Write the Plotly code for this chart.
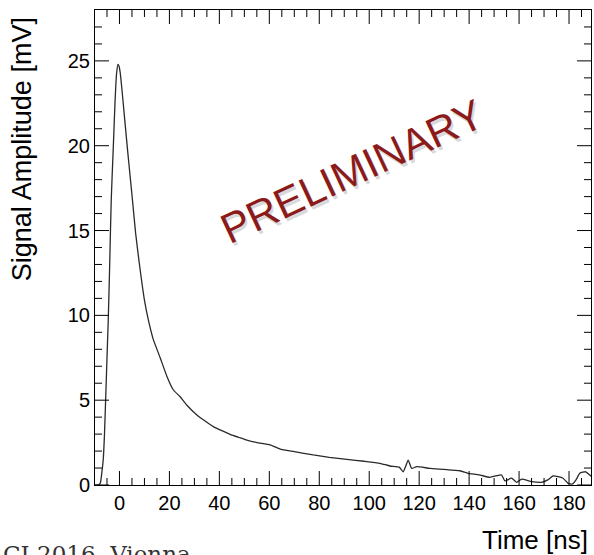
import plotly.graph_objects as go

# Time [ns] and signal amplitude [mV]
time_ns = [-10, -8.5, -7.7, -7, -6.5, -6, -5.5, -5, -4.5, -4, -3.3, -2.5, -1.8, -1.2, -0.6, -0.2,
           0.3, 1, 2, 3.2, 4, 5.2, 6.5, 8, 10, 11.6, 13.5, 16.3, 19, 21.6, 24.3, 27, 31, 34,
           37.6, 41, 44.3, 48, 51, 55, 60.3, 64.3, 70, 77.6, 84, 91, 98, 104.3, 108.3, 112,
           113.6, 114.6, 115.6, 117, 119, 124.3, 130, 136.3, 139.6, 144, 148.3, 151, 153,
           154.3, 157, 159, 161, 165, 169, 171.5, 173.6, 177.6, 179.6, 181.4, 182.8, 184.3,
           186.7, 188.3, 189]
amplitude_mv = [0, 0, 0.1, 0.8, 1.5, 3, 5.2, 7.5, 9.7, 12.5, 16.8, 19.8, 22.5, 24.2, 24.8, 24.7,
                24.3, 23.3, 21.7, 19.8, 18.6, 16.8, 14.8, 13, 10.9, 9.7, 8.6, 7.5, 6.4, 5.6, 5.2,
                4.7, 4.13, 3.8, 3.44, 3.2, 2.99, 2.8, 2.65, 2.5, 2.36, 2.12, 1.97, 1.77, 1.63,
                1.51, 1.4, 1.28, 1.12, 1.05, 0.78, 1.1, 1.47, 0.98, 1.08, 0.98, 0.92, 0.84, 0.69,
                0.6, 0.45, 0.55, 0.59, 0.24, 0.4, 0.16, 0.34, 0.2, 0.16, 0.3, 0.53, 0.4, 0.1,
                0.06, 0.3, 0.69, 0.78, 0.59, 0.5]

x_major = list(range(0, 181, 20))
x_minor = [v for v in range(-5, 186, 5) if v not in x_major]
y_major = list(range(0, 26, 5))
y_minor = [v for v in range(1, 28) if v not in y_major]

X_RANGE = [-9.8, 188.8]
Y_RANGE = [0, 28]
W, H = 594, 555
M = dict(l=95, r=3, t=10, b=70)
FONT = "Liberation Sans, Arial, sans-serif"

# pixel -> data conversion for tick lengths
px_per_x = (W - M["l"] - M["r"]) / (X_RANGE[1] - X_RANGE[0])
px_per_y = (H - M["t"] - M["b"]) / (Y_RANGE[1] - Y_RANGE[0])

fig = go.Figure()
fig.add_trace(go.Scatter(x=time_ns, y=amplitude_mv, mode="lines",
                         line=dict(color="#2a2a2a", width=1.3, shape="spline", smoothing=0.5),
                         showlegend=False))

# Inside tick marks on all four sides, drawn as line segments on the axes' scales
tx, ty = [], []
for vals, length in ((x_major, 14), (x_minor, 7)):
    dy = length / px_per_y
    for v in vals:
        tx += [v, v, None, v, v, None]
        ty += [Y_RANGE[0], Y_RANGE[0] + dy, None, Y_RANGE[1], Y_RANGE[1] - dy, None]
for vals, length in ((y_major, 14), (y_minor, 7)):
    dx = length / px_per_x
    for v in vals:
        tx += [X_RANGE[0], X_RANGE[0] + dx, None, X_RANGE[1], X_RANGE[1] - dx, None]
        ty += [v, v, None, v, v, None]
fig.add_trace(go.Scatter(x=tx, y=ty, mode="lines", line=dict(color="black", width=1),
                         hoverinfo="skip", showlegend=False, cliponaxis=False))

axis_common = dict(showline=True, linecolor="black", linewidth=1, mirror=True,
                   showgrid=False, zeroline=False, ticks="",
                   tickfont=dict(family=FONT, size=20, color="black"))
fig.update_xaxes(range=X_RANGE, tickvals=x_major, ticktext=[str(v) for v in x_major],
                 **axis_common)
fig.update_yaxes(range=Y_RANGE, tickvals=y_major, ticktext=[str(v) for v in y_major],
                 **axis_common)

annotations = [
    dict(text="Signal Amplitude [mV]", textangle=-90, x=-0.148, y=0.706, xref="paper",
         yref="paper", xanchor="center", yanchor="middle", showarrow=False,
         font=dict(family=FONT, size=27, color="black")),
    dict(text="Time [ns]", x=0.998, y=-0.116, xref="paper", yref="paper",
         xanchor="right", yanchor="middle", showarrow=False,
         font=dict(family=FONT, size=26, color="black")),
    dict(text="CI 2016, Vienna", x=-0.19, y=-0.114, xref="paper", yref="paper",
         xanchor="left", yanchor="top", showarrow=False,
         font=dict(family="DejaVu Serif, serif", size=23, color="#333333")),
    dict(text="PRELIMINARY", textangle=-25, x=0.518, y=0.66, xref="paper", yref="paper",
         xanchor="center", yanchor="middle", showarrow=False, xshift=2, yshift=-3,
         font=dict(family=FONT, size=42, color="rgba(120,120,120,0.3)")),
    dict(text="PRELIMINARY", textangle=-25, x=0.518, y=0.66, xref="paper", yref="paper",
         xanchor="center", yanchor="middle", showarrow=False,
         font=dict(family=FONT, size=42, color="#8b1a1a")),
]

fig.update_layout(
    width=W, height=H, autosize=False,
    margin=M,
    paper_bgcolor="white", plot_bgcolor="white",
    annotations=annotations,
)

fig.write_html("out.html")
